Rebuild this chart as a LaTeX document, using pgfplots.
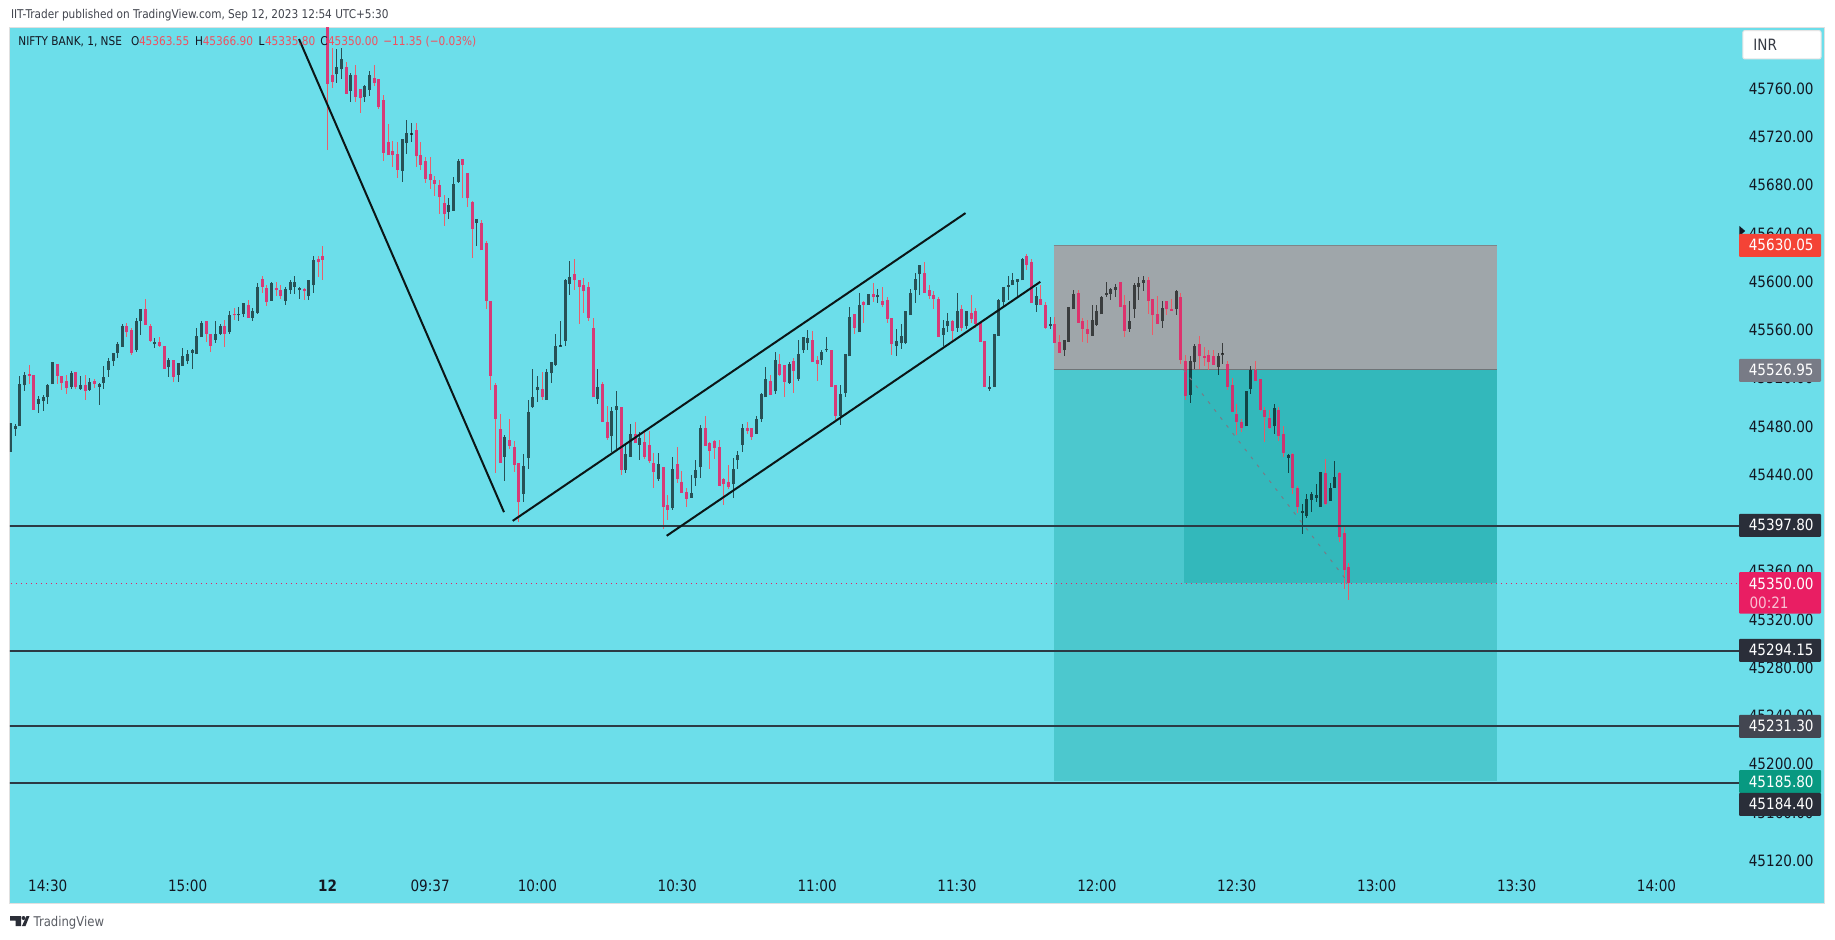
\documentclass[border=0pt]{standalone}
\usepackage{fontspec}
\usepackage{pgfplots}
\usepackage{pgfplotstable}
\pgfplotsset{compat=1.18}
\setmainfont{DejaVu Sans}[FakeStretch=0.87]
\definecolor{chartbg}{HTML}{6CDEEA}
\definecolor{stopbox}{HTML}{9FA6AA}
\definecolor{tgtbox}{HTML}{4CC8CE}
\definecolor{tgtdark}{HTML}{33B8BB}
\definecolor{bearbody}{HTML}{E91E63}
\definecolor{bearwick}{HTML}{F7525F}
\definecolor{hline}{HTML}{2B3A44}
\definecolor{txt}{HTML}{131722}
\definecolor{redtxt}{HTML}{F0505F}
\definecolor{lblred}{HTML}{F44336}
\definecolor{lblgray}{HTML}{787B86}
\definecolor{lbldark}{HTML}{2A2E39}
\definecolor{lblmid}{HTML}{434651}
\definecolor{lblteal}{HTML}{089981}
\newcommand\lab{\fontsize{7.8}{9}\selectfont}
\newcommand\hdr{\fontsize{6.05}{8}\selectfont}
\pgfplotstableread{
x o h l c
-1 45459 45483 45459 45483
0 45478 45482 45472 45480
1 45480 45522 45480 45515
2 45514 45525 45509 45523
5 45499 45505 45491 45503
6 45501 45506 45493 45504
7 45504 45515 45499 45514
8 45515 45533 45515 45533
12 45513 45526 45511 45524
14 45511 45522 45510 45514
16 45510 45520 45509 45517
18 45513 45516 45498 45515
19 45516 45530 45511 45521
20 45527 45537 45521 45534
21 45534 45541 45530 45541
22 45541 45550 45537 45548
23 45546 45565 45546 45563
26 45543 45570 45542 45567
27 45567 45577 45556 45577
30 45548 45553 45545 45550
33 45529 45537 45521 45535
35 45523 45533 45517 45533
36 45530 45545 45530 45538
37 45534 45543 45532 45540
38 45541 45544 45528 45543
39 45540 45562 45540 45555
40 45554 45567 45554 45566
43 45552 45567 45549 45557
44 45557 45565 45556 45563
46 45558 45576 45557 45572
48 45572 45579 45567 45573
49 45573 45582 45571 45582
51 45570 45578 45567 45576
52 45574 45599 45573 45596
55 45584 45600 45584 45599
58 45584 45596 45581 45594
59 45593 45601 45590 45600
60 45596 45605 45590 45600
61 45593 45596 45586 45595
63 45588 45601 45585 45601
64 45597 45621 45591 45618
69 45772 45793 45765 45778
70 45776 45794 45768 45785
72 45758 45773 45749 45771
75 45753 45763 45749 45762
76 45759 45775 45754 45771
83 45692 45718 45683 45718
84 45715 45734 45706 45723
85 45722 45732 45716 45722
93 45658 45669 45652 45664
94 45659 45687 45659 45681
95 45683 45702 45682 45700
99 45649 45652 45630 45652
105 45455 45473 45435 45471
109 45424 45457 45417 45447
110 45454 45502 45445 45492
111 45496 45528 45495 45504
112 45510 45522 45500 45513
114 45502 45528 45502 45525
115 45524 45533 45516 45533
116 45531 45557 45530 45547
117 45546 45567 45546 45547
118 45551 45602 45547 45601
119 45598 45617 45589 45604
125 45503 45528 45499 45513
128 45472 45496 45459 45493
129 45494 45509 45461 45497
131 45444 45465 45441 45457
132 45455 45482 45455 45474
134 45465 45475 45452 45470
138 45436 45458 45435 45449
141 45412 45455 45411 45445
145 45421 45440 45421 45425
146 45437 45452 45431 45444
147 45446 45481 45437 45479
154 45432 45454 45421 45445
155 45452 45460 45445 45456
156 45465 45482 45459 45479
159 45474 45489 45474 45486
160 45486 45508 45484 45507
161 45504 45529 45504 45519
163 45509 45542 45507 45535
166 45516 45533 45515 45532
168 45519 45552 45518 45540
169 45543 45554 45541 45554
170 45549 45560 45543 45553
173 45535 45543 45531 45542
174 45543 45554 45542 45544
177 45489 45514 45481 45507
178 45508 45540 45504 45540
179 45538 45579 45538 45571
181 45558 45591 45558 45581
183 45581 45590 45581 45590
185 45587 45594 45582 45589
189 45547 45561 45538 45551
190 45549 45565 45544 45555
191 45549 45576 45548 45576
192 45572 45594 45572 45591
193 45593 45607 45582 45602
194 45606 45614 45589 45614
199 45556 45568 45547 45562
200 45563 45574 45558 45567
202 45562 45591 45558 45576
204 45563 45576 45561 45576
209 45511 45522 45509 45513
210 45513 45557 45513 45557
211 45555 45586 45555 45585
212 45583 45596 45578 45596
213 45596 45605 45585 45597
214 45597 45607 45597 45601
215 45600 45602 45587 45602
216 45601 45620 45601 45619
219 45581 45596 45575 45588
222 45563 45571 45561 45565
225 45543 45552 45538 45552
226 45550 45579 45550 45579
227 45577 45593 45577 45590
231 45555 45581 45555 45568
232 45564 45581 45563 45576
233 45573 45588 45573 45587
234 45589 45600 45587 45591
235 45590 45595 45585 45594
236 45593 45598 45587 45596
239 45561 45584 45558 45567
240 45577 45599 45570 45597
241 45596 45604 45585 45599
242 45599 45605 45592 45601
246 45567 45584 45562 45578
249 45577 45593 45572 45592
252 45506 45538 45499 45534
253 45533 45548 45528 45547
258 45529 45541 45523 45538
259 45539 45549 45532 45540
264 45480 45509 45480 45509
265 45511 45530 45507 45527
270 45480 45499 45474 45495
273 45454 45457 45441 45456
276 45408 45416 45391 45410
277 45406 45424 45404 45420
278 45419 45426 45409 45424
279 45421 45432 45417 45423
280 45413 45442 45413 45442
282 45418 45433 45418 45429
283 45429 45451 45429 45438
}\bull
\pgfplotstableread{
x o h l c
3 45523 45531 45515 45522
4 45523 45523 45494 45494
9 45532 45532 45515 45522
10 45522 45522 45510 45516
11 45518 45523 45507 45512
13 45525 45525 45511 45513
15 45514 45523 45502 45509
17 45518 45519 45512 45515
24 45563 45566 45554 45558
25 45560 45562 45539 45541
28 45577 45586 45564 45564
29 45563 45565 45550 45551
31 45550 45554 45546 45547
32 45547 45547 45528 45528
34 45535 45535 45517 45521
41 45567 45567 45550 45557
42 45557 45557 45542 45547
45 45563 45568 45546 45557
47 45573 45578 45568 45572
50 45581 45585 45570 45570
53 45602 45605 45591 45596
54 45595 45597 45580 45583
56 45595 45600 45588 45593
57 45593 45597 45586 45588
62 45594 45595 45585 45592
65 45619 45621 45604 45616
66 45621 45630 45601 45618
67 45830 45840 45709 45764
68 45771 45794 45761 45766
71 45778 45782 45756 45756
73 45771 45780 45749 45753
74 45760 45760 45740 45752
77 45769 45780 45762 45765
78 45768 45768 45743 45745
79 45751 45755 45700 45707
80 45716 45731 45705 45705
81 45708 45717 45695 45705
82 45706 45716 45686 45693
86 45726 45732 45695 45704
87 45705 45716 45693 45697
88 45700 45703 45682 45685
89 45689 45703 45677 45684
90 45684 45688 45671 45681
91 45680 45684 45656 45670
92 45665 45672 45646 45656
96 45702 45702 45669 45697
97 45690 45690 45662 45669
98 45666 45667 45620 45644
100 45649 45651 45626 45626
101 45632 45634 45577 45584
102 45584 45584 45510 45522
103 45514 45516 45441 45486
104 45478 45490 45450 45450
106 45469 45486 45461 45464
107 45463 45468 45442 45448
108 45450 45450 45401 45417
113 45511 45525 45502 45504
120 45606 45619 45593 45601
121 45601 45601 45565 45596
122 45597 45603 45574 45592
123 45596 45600 45567 45570
124 45562 45570 45504 45504
126 45515 45517 45484 45484
127 45484 45497 45469 45470
130 45496 45496 45440 45444
133 45474 45484 45466 45466
135 45467 45475 45453 45455
136 45465 45476 45450 45451
137 45450 45458 45429 45442
139 45446 45446 45395 45413
140 45415 45423 45402 45411
142 45449 45463 45433 45436
143 45434 45443 45425 45425
144 45426 45429 45413 45420
148 45479 45489 45464 45464
149 45466 45467 45445 45460
150 45468 45469 45453 45462
151 45463 45469 45431 45431
152 45436 45437 45415 45432
153 45434 45448 45428 45430
157 45479 45484 45474 45476
158 45479 45479 45469 45471
162 45518 45523 45506 45506
164 45532 45540 45522 45523
165 45531 45531 45504 45517
167 45534 45537 45508 45526
171 45552 45559 45533 45533
172 45535 45538 45518 45532
175 45543 45543 45513 45513
176 45514 45514 45484 45489
180 45573 45573 45557 45562
182 45583 45584 45566 45581
184 45590 45599 45583 45587
186 45584 45596 45579 45581
187 45585 45587 45566 45569
188 45570 45570 45539 45548
195 45607 45616 45591 45591
196 45593 45597 45586 45588
197 45589 45592 45577 45586
198 45586 45587 45554 45554
201 45567 45568 45552 45559
203 45577 45581 45559 45562
205 45574 45589 45566 45569
206 45576 45578 45562 45565
207 45566 45566 45550 45550
208 45551 45551 45513 45513
217 45621 45623 45610 45614
218 45616 45619 45582 45582
220 45586 45597 45581 45581
221 45581 45583 45561 45562
223 45565 45571 45549 45549
224 45550 45556 45541 45541
228 45591 45593 45566 45566
229 45567 45570 45550 45561
230 45561 45568 45549 45557
237 45600 45600 45579 45579
238 45581 45589 45554 45559
243 45601 45604 45573 45584
244 45586 45586 45556 45572
245 45573 45588 45565 45565
247 45584 45584 45572 45577
248 45577 45586 45576 45576
250 45587 45591 45532 45535
251 45534 45539 45502 45505
254 45548 45555 45528 45538
255 45538 45546 45530 45537
256 45539 45543 45527 45533
257 45538 45543 45531 45531
260 45532 45534 45510 45513
261 45514 45520 45492 45492
262 45490 45499 45473 45484
263 45484 45486 45475 45479
266 45527 45534 45518 45518
267 45519 45519 45493 45494
268 45494 45496 45467 45488
269 45487 45494 45478 45479
271 45494 45496 45468 45472
272 45474 45480 45455 45458
274 45457 45458 45424 45429
275 45429 45431 45408 45413
281 45441 45453 45415 45416
284 45441 45442 45384 45388
285 45392 45397 45345 45361
286 45363.55 45366.9 45335.8 45350
}\bear
% table, low end of body, high end of body, wick style, body style
\newcommand\candles[5]{%
\addplot[draw=none,mark=none,forget plot,error bars/.cd,y dir=minus,y explicit,error mark=none,
  error bar style={#4}] table[x=x,y=#2,y error minus expr=\thisrow{#2}-\thisrow{l}] {#1};
\addplot[draw=none,mark=none,forget plot,error bars/.cd,y dir=plus,y explicit,error mark=none,
  error bar style={#4}] table[x=x,y=#3,y error plus expr=\thisrow{h}-\thisrow{#3}] {#1};
\addplot[draw=none,mark=none,forget plot,error bars/.cd,y dir=plus,y explicit,error mark=none,
  error bar style={#5}] table[x=x,y=#2,y error plus expr={max(\thisrow{#3}-\thisrow{#2},1.5)}] {#1};
}
\newcommand\pricelabel[3]{%
  \fill[#1,rounded corners=0.5pt] (869.5pt,{(939-#2)*0.5pt-5.75pt}) rectangle (910.5pt,{(939-#2)*0.5pt+5.75pt});
  \node[anchor=base east,inner sep=0pt,text=white,font=\lab] at (907pt,{(939-#2)*0.5pt-2.8pt}) {#3};
}
\begin{document}
\begin{tikzpicture}
\useasboundingbox (0,0) rectangle (917.5pt,469.5pt);
\fill[white] (0,0) rectangle (917.5pt,469.5pt);
\begin{axis}[
  at={(5pt,18pt)},anchor=south west,scale only axis,width=907pt,height=438pt,
  xmin=-1.09,xmax=387.93,ymin=45084.8,ymax=45811.2,
  axis background/.style={fill=chartbg},
  axis line style={draw=black!12!white,line width=0.5pt},
  major tick length=0pt,
  xtick={7,37,67,89,112,142,172,202,232,262,292,322,352},
  xticklabels={14:30,15:00,\textbf{12},09:37,10:00,10:30,11:00,11:30,12:00,12:30,13:00,13:30,14:00},
  x tick label style={anchor=base,yshift=5.8pt,font=\lab,text=txt},
  ytick={45120,45160,45200,45240,45280,45320,45360,45400,45440,45480,45520,45560,45600,45640,45680,45720,45760},
  yticklabels={45120.00,45160.00,45200.00,45240.00,45280.00,45320.00,45360.00,45400.00,45440.00,45480.00,45520.00,45560.00,45600.00,45640.00,45680.00,45720.00,45760.00},
  yticklabel pos=right,
  scaled y ticks=false,
  y tick label style={anchor=east,inner sep=0pt,xshift=-5pt,font=\lab,text=txt},
  clip=true,
]
% position tool
\addplot[fill=stopbox,draw=none,forget plot] coordinates {(222.74,45526.95)(317.8,45526.95)(317.8,45630.05)(222.74,45630.05)} -- cycle;
\addplot[fill=tgtbox,draw=none,forget plot] coordinates {(222.74,45185.8)(317.8,45185.8)(317.8,45526.95)(222.74,45526.95)} -- cycle;
\addplot[fill=tgtdark,draw=none,forget plot] coordinates {(250.6,45350)(317.8,45350)(317.8,45526.95)(250.6,45526.95)} -- cycle;
\addplot[draw=black!20!stopbox,line width=0.5pt,forget plot] coordinates {(222.74,45630.05)(317.8,45630.05)};
\addplot[draw=black!30!stopbox,line width=0.5pt,forget plot] coordinates {(222.74,45526.95)(317.8,45526.95)};
% candles
\candles{\bull}{o}{c}{color=black,opacity=0.63,line width=0.5pt}{color=black,opacity=0.63,line width=1.5pt}
\candles{\bear}{c}{o}{color=bearwick,opacity=0.9,line width=0.5pt}{color=bearbody,opacity=0.85,line width=1.5pt}
% lines
\addplot[draw=lblgray,line width=0.5pt,dash pattern=on 1.5pt off 3.5pt,forget plot] coordinates {(250.6,45526.95)(286,45350)};
\addplot[draw=bearbody,line width=0.5pt,dotted,forget plot] coordinates {(-2,45350)(369.7,45350)};
\addplot[draw=hline,line width=1pt,forget plot] coordinates {(-2,45397.8)(369.7,45397.8)};
\addplot[draw=hline,line width=1pt,forget plot] coordinates {(-2,45294.15)(369.7,45294.15)};
\addplot[draw=hline,line width=1pt,forget plot] coordinates {(-2,45231.3)(369.7,45231.3)};
\addplot[draw=hline,line width=1pt,forget plot] coordinates {(-2,45184.4)(369.7,45184.4)};
\addplot[draw=black!90!chartbg,line width=1pt,forget plot] coordinates {(60.89,45801.2)(104.85,45408.9)};
\addplot[draw=black!90!chartbg,line width=1pt,forget plot] coordinates {(106.72,45401.7)(203.82,45656.9)};
\addplot[draw=black!90!chartbg,line width=1pt,forget plot] coordinates {(139.74,45389.3)(219.86,45599.9)};
\end{axis}
% header
\node[anchor=base west,inner sep=0pt,text=txt!80!white,font=\hdr] at (5.3pt,460pt) {IIT-Trader published on TradingView.com, Sep 12, 2023 12:54 UTC+5:30};
\node[anchor=base west,inner sep=0pt,text=txt,font=\hdr] at (9pt,446.5pt) {NIFTY BANK, 1, NSE};
\node[anchor=base west,inner sep=0pt,text=txt,font=\hdr] at (65.4pt,446.5pt) {O};
\node[anchor=base west,inner sep=0pt,text=redtxt,font=\hdr] at (69.3pt,446.5pt) {45363.55};
\node[anchor=base west,inner sep=0pt,text=txt,font=\hdr] at (97.3pt,446.5pt) {H};
\node[anchor=base west,inner sep=0pt,text=redtxt,font=\hdr] at (101.2pt,446.5pt) {45366.90};
\node[anchor=base west,inner sep=0pt,text=txt,font=\hdr] at (129.1pt,446.5pt) {L};
\node[anchor=base west,inner sep=0pt,text=redtxt,font=\hdr] at (132.3pt,446.5pt) {45335.80};
\node[anchor=base west,inner sep=0pt,text=txt,font=\hdr] at (160pt,446.5pt) {C};
\node[anchor=base west,inner sep=0pt,text=redtxt,font=\hdr] at (163.8pt,446.5pt) {45350.00};
\node[anchor=base west,inner sep=0pt,text=redtxt,font=\hdr] at (191.5pt,446.5pt) {−11.35 (−0.03\%)};
% INR button
\filldraw[draw=black!10!white,fill=white,line width=0.5pt,rounded corners=1pt] (871.4pt,440pt) rectangle (910.5pt,454.2pt);
\node[anchor=base west,inner sep=0pt,text=txt!85!white,font=\lab] at (876.5pt,444.3pt) {INR};
% marker and price labels
\fill[txt] (869.7pt,{(939-226)*0.5pt}) -- (872.6pt,{(939-231)*0.5pt}) -- (869.7pt,{(939-236)*0.5pt}) -- cycle;
\pricelabel{lblred}{245.3}{45630.05}
\pricelabel{lblgray}{370.3}{45526.95}
\pricelabel{lbldark}{525.3}{45397.80}
\fill[bearbody,rounded corners=0.5pt] (869.5pt,{(939-572)*0.5pt}) rectangle (910.5pt,{(939-613.7)*0.5pt});
\node[anchor=base east,inner sep=0pt,text=white,font=\lab] at (907pt,{(939-583.7)*0.5pt-2.8pt}) {45350.00};
\node[anchor=base east,inner sep=0pt,text=white!72!bearbody,font=\lab] at (894.5pt,{(939-602.7)*0.5pt-2.8pt}) {00:21};
\pricelabel{lbldark}{650.3}{45294.15}
\pricelabel{lblmid}{726.3}{45231.30}
\pricelabel{lblteal}{781.5}{45185.80}
\pricelabel{lbldark}{804.3}{45184.40}
% TradingView footer
\fill[txt!90!white] (5pt,{(939-916)*0.5pt}) -- (10.5pt,{(939-916)*0.5pt}) -- (10.5pt,{(939-926)*0.5pt}) -- (7.8pt,{(939-926)*0.5pt}) -- (7.8pt,{(939-920.5)*0.5pt}) -- (5pt,{(939-920.5)*0.5pt}) -- cycle;
\fill[txt!90!white] (11.75pt,{(939-918)*0.5pt}) circle (1pt);
\fill[txt!90!white] (11pt,{(939-926)*0.5pt}) -- (13.25pt,{(939-916)*0.5pt}) -- (14.75pt,{(939-916)*0.5pt}) -- (12.75pt,{(939-926)*0.5pt}) -- cycle;
\node[anchor=base west,inner sep=0pt,text=txt!70!white,font=\fontsize{6.7}{9}\selectfont] at (16.6pt,6.5pt) {TradingView};
\end{tikzpicture}
\end{document}
